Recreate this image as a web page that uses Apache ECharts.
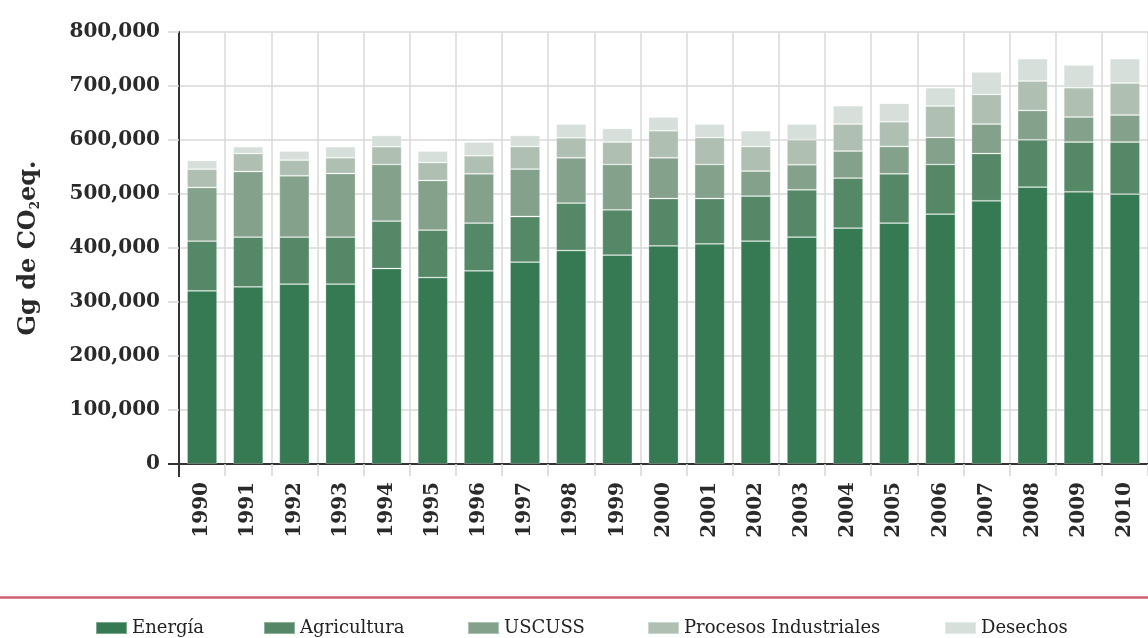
<!DOCTYPE html>
<html>
<head>
<meta charset="utf-8">
<script src="https://cdn.jsdelivr.net/npm/echarts@6/dist/echarts.min.js"></script>
<style>
html,body{margin:0;padding:0;background:#fff;}
#chart{width:1148px;height:638px;}
</style>
</head>
<body>
<div id="chart"></div>
<script>
const years = ['1990','1991','1992','1993','1994','1995','1996','1997','1998','1999','2000','2001','2002','2003','2004','2005','2006','2007','2008','2009','2010'];
const energia = [320600,328000,333000,333000,362000,345300,357700,373800,395300,386700,404000,407700,412700,420100,436800,446100,462700,487400,512800,504100,499800];
const agricultura = [92100,92100,87100,87100,87800,87800,88400,84500,87800,84000,87700,84000,83400,87700,92600,91300,92000,87600,87600,92100,96400];
const uscuss = [99300,121600,113600,117900,104900,91900,91300,87800,84000,84000,75400,63000,46300,46300,50100,50600,50000,54500,54300,46300,50000];
const procesos = [34100,33300,29100,29100,32800,33400,33400,41900,37000,41500,50000,50000,45600,46300,50000,45800,58200,54900,54500,54300,59300];
const desechos = [16000,12500,16700,20400,20900,21100,25400,20400,25400,25200,25400,24800,29100,29100,33900,33900,33900,41500,41300,42000,45000];
const seriesNames = ['Energía','Agricultura','USCUSS','Procesos Industriales','Desechos'];
const seriesData = [energia, agricultura, uscuss, procesos, desechos];
const colors = ['#357a52','#558866','#84a18b','#afc0b3','#d6dfda'];
const yTicks = [0,100000,200000,300000,400000,500000,600000,700000,800000];

const chart = echarts.init(document.getElementById('chart'));
const serif = 'DejaVu Serif';
const legendLefts = [90, 258, 462, 642, 939];

const option = {
  animation: false,
  color: colors,
  grid: {left: 179, right: 0, top: 32, bottom: 174, containLabel: false},
  legend: seriesNames.map((n, i) => ({
    data: [n],
    left: legendLefts[i],
    top: 614,
    itemWidth: 31,
    itemHeight: 12,
    itemGap: 0,
    icon: 'rect',
    textStyle: {fontFamily: serif, fontSize: 18, color: '#222'}
  })),
  xAxis: {
    type: 'category',
    data: years,
    boundaryGap: true,
    axisLine: {show: true, lineStyle: {color: '#333', width: 2}},
    axisTick: {show: true, length: 12, lineStyle: {color: '#d6d6d6', width: 1.5}},
    splitLine: {show: true, lineStyle: {color: '#d9d9d9', width: 1.5}},
    axisLabel: {rotate: 90, margin: 18, fontFamily: serif, fontWeight: 'bold', fontSize: 20, color: '#2a2a2a'}
  },
  yAxis: {
    type: 'value',
    min: 0, max: 800000, interval: 100000,
    name: 'Gg de CO{sub|2}eq.',
    nameLocation: 'middle',
    nameGap: 137,
    nameRotate: 90,
    nameTextStyle: {
      fontFamily: serif, fontWeight: 'bold', fontSize: 24, color: '#2a2a2a',
      rich: {sub: {fontFamily: serif, fontWeight: 'bold', fontSize: 12, color: '#2a2a2a', verticalAlign: 'bottom', padding: [14,0,0,0]}}
    },
    axisLine: {show: true, lineStyle: {color: '#333', width: 2}},
    axisTick: {show: true, length: 11, lineStyle: {color: '#d6d6d6', width: 1.5}},
    splitLine: {show: true, lineStyle: {color: '#d9d9d9', width: 1.5}},
    axisLabel: {
      margin: 19, fontFamily: serif, fontWeight: 'bold', fontSize: 20, color: '#2a2a2a',
      formatter: v => yTicks.includes(v) ? v.toLocaleString('en-US') : ''
    }
  },
  series: seriesNames.map((n, i) => ({
    name: n,
    type: 'bar',
    stack: 'total',
    barWidth: 30,
    data: seriesData[i],
    itemStyle: {color: colors[i], borderColor: 'rgba(255,255,255,0.35)', borderWidth: 0.8}
  })),
  graphic: [
    {type: 'line', shape: {x1: 0, y1: 597.5, x2: 1148, y2: 597.5}, style: {stroke: '#d06070', lineWidth: 2.5}, z: 10},
    {type: 'line', shape: {x1: 179, y1: 464, x2: 179, y2: 477}, style: {stroke: '#333', lineWidth: 2}, z: 10},
    {type: 'line', shape: {x1: 168, y1: 464, x2: 180, y2: 464}, style: {stroke: '#333', lineWidth: 2}, z: 10}
  ]
};
chart.setOption(option);
</script>
</body>
</html>
